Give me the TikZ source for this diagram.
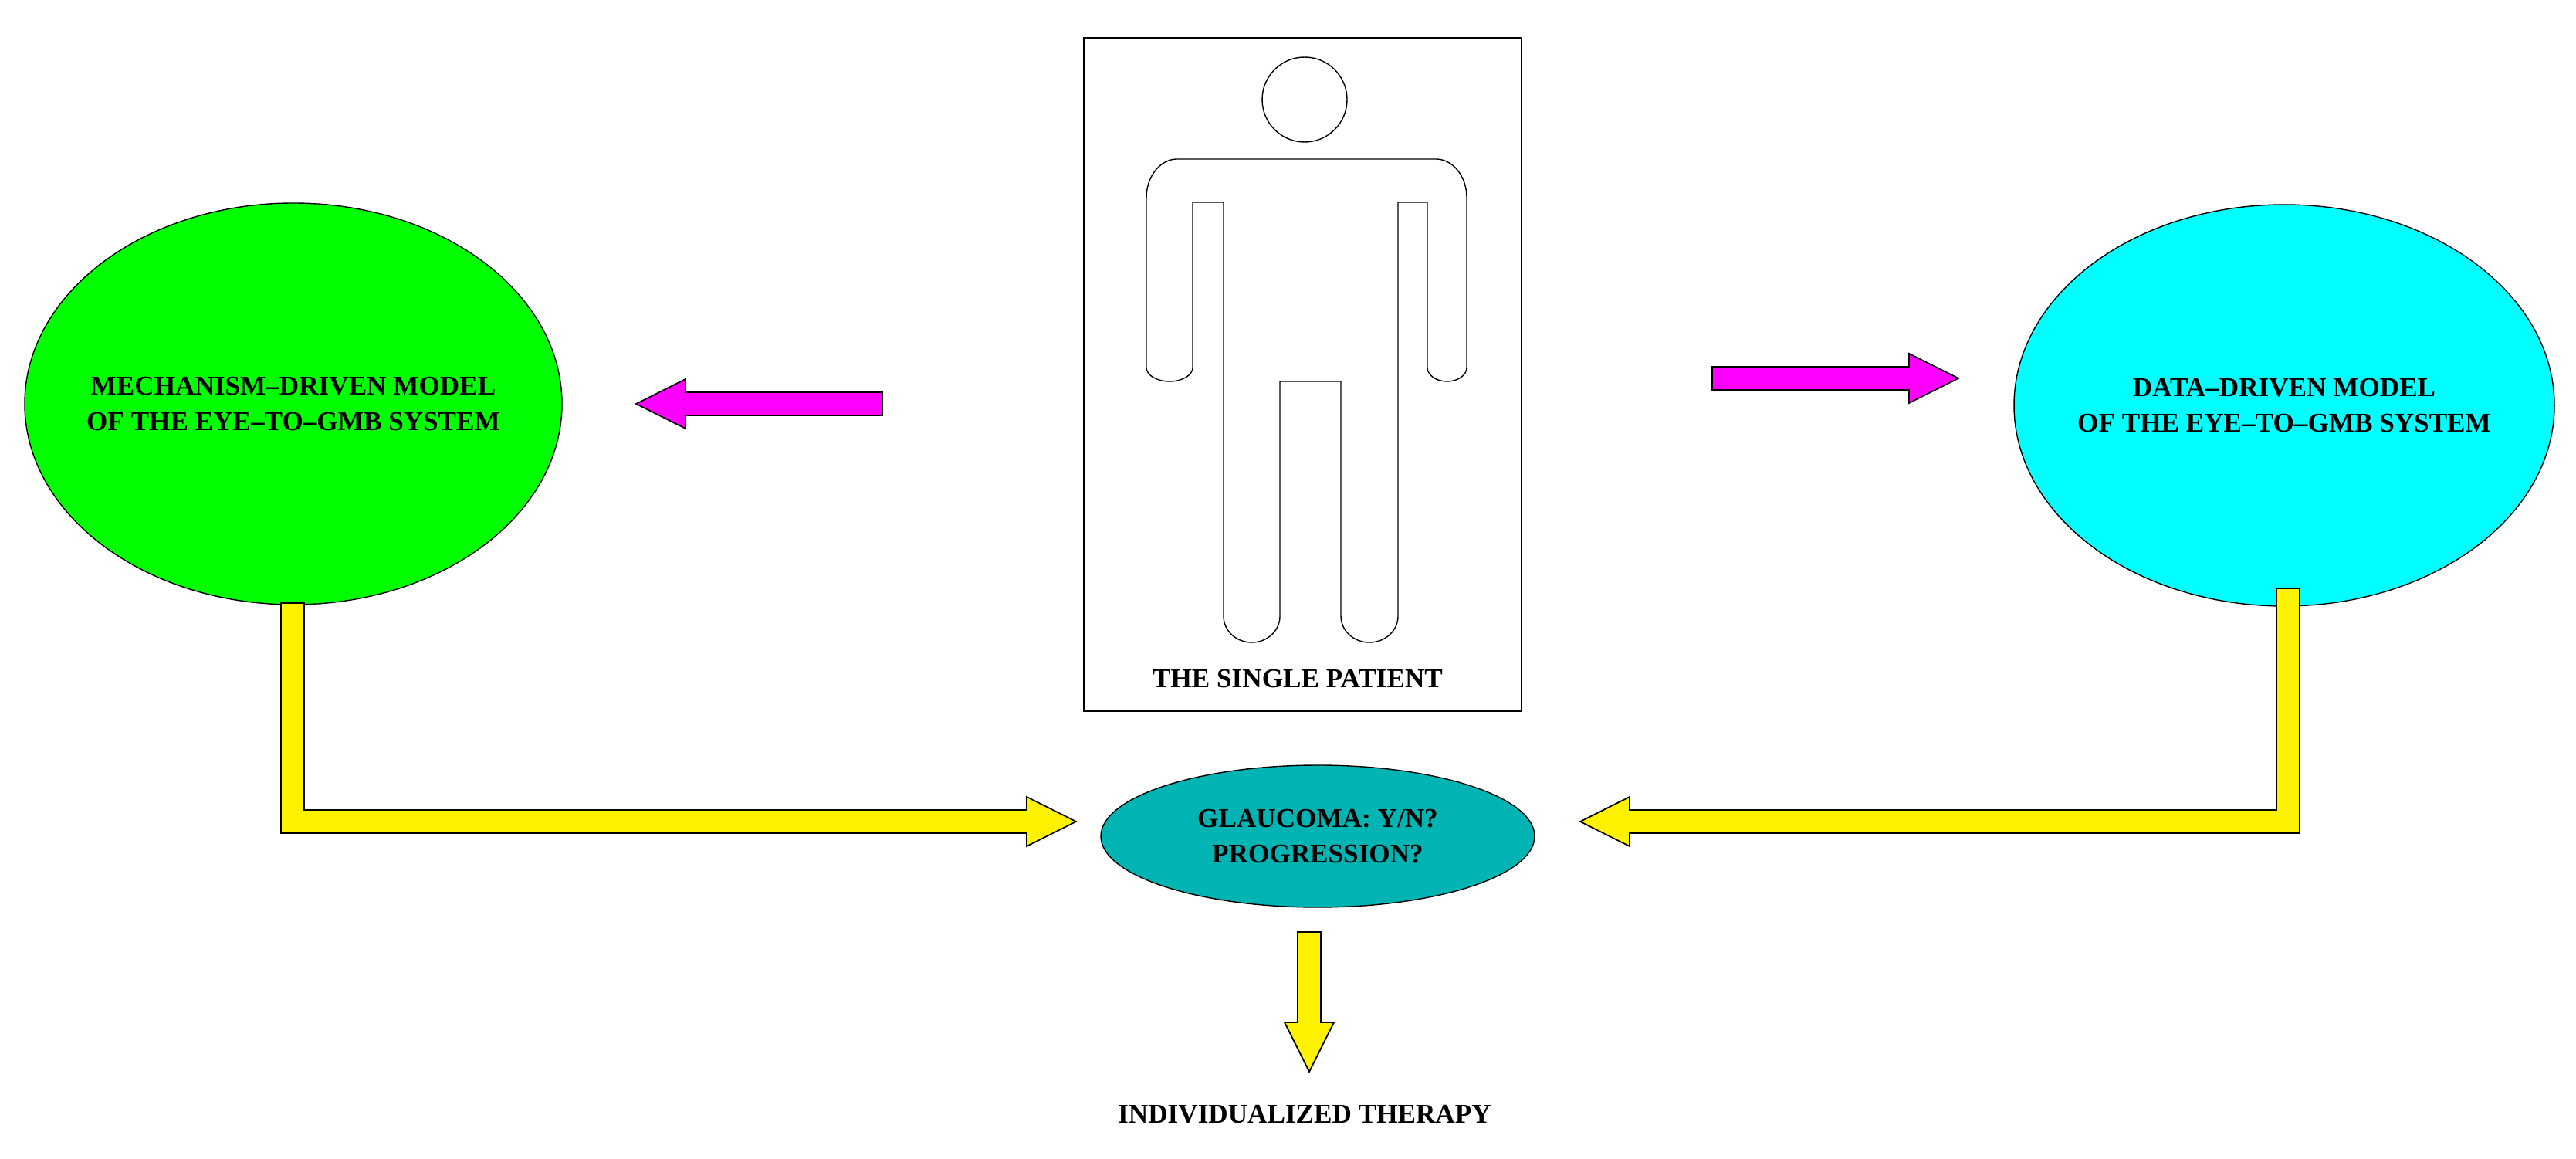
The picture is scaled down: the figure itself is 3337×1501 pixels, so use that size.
\documentclass[tikz,border=0pt]{standalone}
\usepackage{fontspec}
\setmainfont{Liberation Serif}
\definecolor{teal1}{RGB}{0,180,180}
\definecolor{mag1}{RGB}{255,0,255}
\definecolor{cyan1}{RGB}{0,255,255}
\begin{document}
\begin{tikzpicture}[x=0.01cm, y=-0.01cm, every node/.style={font=\fontsize{10}{13}\selectfont\bfseries, align=center, inner sep=0pt}]
		\tikzstyle{fat} = [draw, line width=0.5pt]
		\useasboundingbox (0,0) rectangle (3337,1501);
		
		\draw[fill=green] (380,523) ellipse [x radius=348, y radius=260];
		\node (mech) at (380,523) {MECHANISM--DRIVEN MODEL\\OF THE EYE--TO--GMB SYSTEM};
		\draw[fill=cyan1] (2959,525) ellipse [x radius=350, y radius=260];
		\node (data) at (2959,525) {DATA--DRIVEN MODEL\\OF THE EYE--TO--GMB SYSTEM};
		\draw[fill=teal1] (1707,1083) ellipse [x radius=281, y radius=92];
		\node (glau) at (1707,1083) {GLAUCOMA: Y/N?\\PROGRESSION?};
		\node (therapy) at (1690,1443) {INDIVIDUALIZED THERAPY};
		\draw (1404,49) rectangle (1971,921);
		\node (patient) at (1681,879) {THE SINGLE PATIENT};
		
		% patient figure
		\draw (1690,129) circle (55);
		\draw (1585,262) -- (1545,262) -- (1545,476) arc[start angle=0, end angle=180, x radius=30, y radius=18]
			-- (1485,256) arc[start angle=180, end angle=270, x radius=40, y radius=50]
			-- (1860,206) arc[start angle=270, end angle=360, x radius=40, y radius=50]
			-- (1900,476) arc[start angle=0, end angle=180, x radius=25.5, y radius=18]
			-- (1849,262) -- (1811,262) -- (1811,798) arc[start angle=0, end angle=180, x radius=37, y radius=34]
			-- (1737,494) -- (1658,494) -- (1658,798) arc[start angle=0, end angle=180, x radius=36.5, y radius=34]
			-- cycle;
		
		% magenta arrows
		\draw[fat, fill=mag1] (1143,508) -- (1143,538) -- (888,538) -- (888,555) -- (824,523) -- (888,491) -- (888,508) -- cycle;
		\draw[fat, fill=mag1] (2218,475) -- (2473,475) -- (2473,458) -- (2537,490) -- (2473,522) -- (2473,505) -- (2218,505) -- cycle;
		
		% yellow arrows
		\draw[fat, fill=yellow] (364,781) -- (394,781) -- (394,1049) -- (1330,1049) -- (1330,1032) -- (1394,1064) -- (1330,1096) -- (1330,1079) -- (364,1079) -- cycle;
		\draw[fat, fill=yellow] (2949,762) -- (2979,762) -- (2979,1079) -- (2111,1079) -- (2111,1096) -- (2047,1064) -- (2111,1032) -- (2111,1049) -- (2949,1049) -- cycle;
		\draw[fat, fill=yellow] (1681,1207) -- (1711,1207) -- (1711,1324) -- (1728,1324) -- (1696,1388) -- (1664,1324) -- (1681,1324) -- cycle;
	\end{tikzpicture}
\end{document}
